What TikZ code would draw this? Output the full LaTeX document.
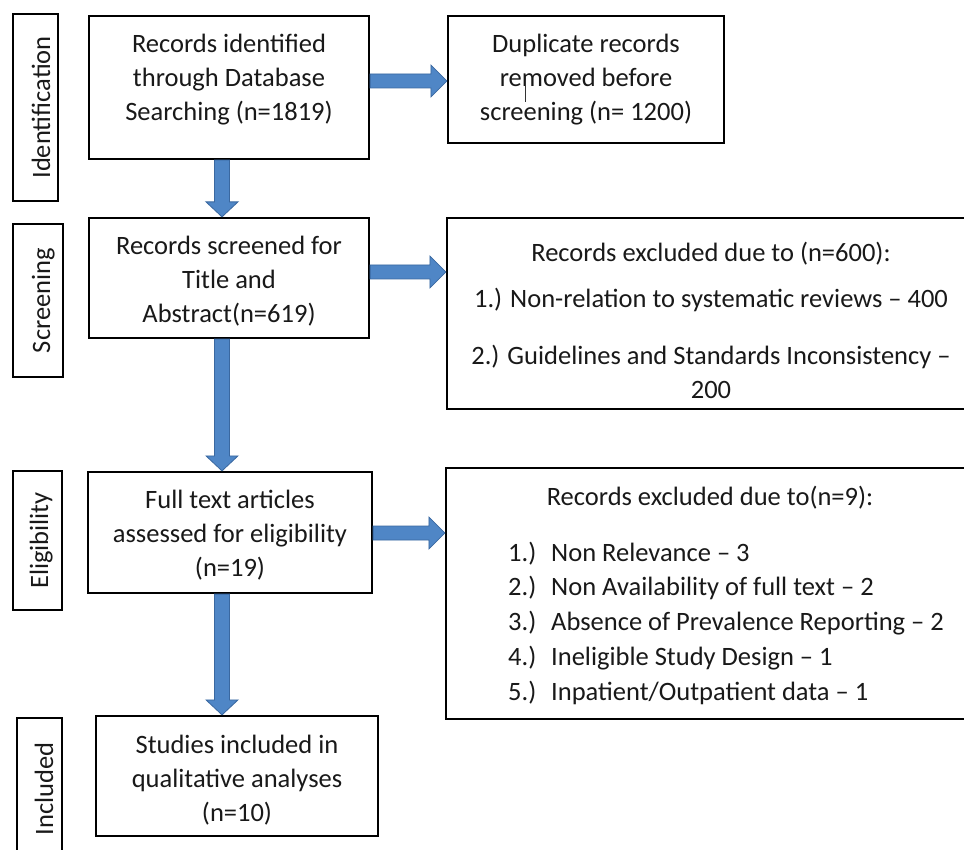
\documentclass[tikz,border=0pt]{standalone}
\usepackage{fontspec}
\setmainfont{Carlito}
\usetikzlibrary{calc}
\definecolor{arrfill}{RGB}{79,134,198}
\definecolor{arrline}{RGB}{58,104,160}
\newcommand{\mlines}[1]{\begin{tabular}[t]{@{}c@{}}#1\end{tabular}}
\begin{document}
\begin{tikzpicture}[x=1pt,y=-1pt,
  box/.style={draw=black, line width=2.2pt, inner sep=0pt},
  txt/.style={anchor=base, inner sep=0pt, text=black!90, font=\fontsize{26.5}{34}\selectfont},
  rarrow/.style={draw=arrline, fill=arrfill, line width=0.8pt, to path={
    ($(\tikztostart)+(0,-7)$) -- ($(\tikztotarget)+(-16,-7)$) -- ($(\tikztotarget)+(-16,-16)$)
    -- (\tikztotarget) -- ($(\tikztotarget)+(-16,16)$) -- ($(\tikztotarget)+(-16,7)$)
    -- ($(\tikztostart)+(0,7)$) -- cycle}},
  darrow/.style={draw=arrline, fill=arrfill, line width=0.8pt, to path={
    ($(\tikztostart)+(-7.5,0)$) -- ($(\tikztotarget)+(-7.5,-15)$) -- ($(\tikztotarget)+(-16,-15)$)
    -- (\tikztotarget) -- ($(\tikztotarget)+(16,-15)$) -- ($(\tikztotarget)+(7.5,-15)$)
    -- ($(\tikztostart)+(7.5,0)$) -- cycle}}
]
\useasboundingbox (0,0) rectangle (964,850);
\fill[white] (0,0) rectangle (964,850);
\clip (0,0) rectangle (964,850);

% boxes
\node[box, minimum width=45pt, minimum height=187pt] (lab1) at (35.5,107.5) {};
\node[box, minimum width=280pt, minimum height=143pt] (b1) at (229,87.5) {};
\node[box, minimum width=276pt, minimum height=127pt] (b2) at (586,79.5) {};
\node[box, minimum width=50pt, minimum height=153pt] (lab2) at (38,300.5) {};
\node[box, minimum width=280pt, minimum height=120pt] (b3) at (229,278) {};
\node[box, minimum width=528pt, minimum height=191pt] (b4) at (711,313.5) {};
\node[box, minimum width=49pt, minimum height=139pt] (lab3) at (37.5,540.5) {};
\node[box, minimum width=284pt, minimum height=121pt] (b5) at (230,532.5) {};
\node[box, minimum width=529pt, minimum height=251pt] (b6) at (710.5,593.5) {};
\node[box, minimum width=45pt, minimum height=152pt] (lab4) at (39.5,794) {};
\node[box, minimum width=282pt, minimum height=120pt] (b7) at (237,776) {};

% arrows
\draw[rarrow] (b1.east |- 0,81) to (b2.west |- 0,81);
\draw[rarrow] (b3.east |- 0,272) to (b4.west |- 0,272);
\draw[rarrow] (b5.east |- 0,533) to (b6.west |- 0,533);
\draw[darrow] (b1.south -| 222,0) to (b3.north -| 222,0);
\draw[darrow] (b3.south -| 222,0) to (b5.north -| 222,0);
\draw[darrow] (b5.south -| 222,0) to (b7.north -| 222,0);

% texts
\node[txt, rotate=90] (l1t) at (50,107.5) {Identification};
\node[txt, rotate=90] (l2t) at (50,300.5) {Screening};
\node[txt, rotate=90] (l3t) at (48,540.5) {Eligibility};
\node[txt, rotate=90] (l4t) at (53,789) {Included};

\node[txt] (t1) at (229,53) {\mlines{Records identified\\through Database\\Searching (n=1819)}};
\node[txt] (t2) at (586,53) {\mlines{Duplicate records\\removed before\\screening (n= 1200)}};
\draw[line width=0.8pt, black!80] (525,80) -- (525,102);
\node[txt] (t3) at (229,255) {\mlines{Records screened for\\Title and\\Abstract(n=619)}};
\node[txt] (t4a) at (711,262) {Records excluded due to (n=600):};
\node[txt] (t4b) at (711,308) {1.) Non-relation to systematic reviews -- 400};
\node[txt] (t4c) at (711,364) {\mlines{2.) Guidelines and Standards Inconsistency --\\200}};
\node[txt] (t5) at (230,508) {\mlines{Full text articles\\assessed for eligibility\\(n=19)}};
\node[txt] (t6a) at (710,505) {Records excluded due to(n=9):};
\node[txt, anchor=base west, font=\fontsize{26.5}{34.75}\selectfont] (t6b) at (508,561) {\begin{tabular}[t]{@{}l@{}}
\makebox[43pt][l]{1.)}Non Relevance -- 3\\
\makebox[43pt][l]{2.)}Non Availability of full text -- 2\\
\makebox[43pt][l]{3.)}Absence of Prevalence Reporting -- 2\\
\makebox[43pt][l]{4.)}Ineligible Study Design -- 1\\
\makebox[43pt][l]{5.)}Inpatient/Outpatient data -- 1
\end{tabular}};
\node[txt] (t7) at (237,753) {\mlines{Studies included in\\qualitative analyses\\(n=10)}};
\end{tikzpicture}
\end{document}
